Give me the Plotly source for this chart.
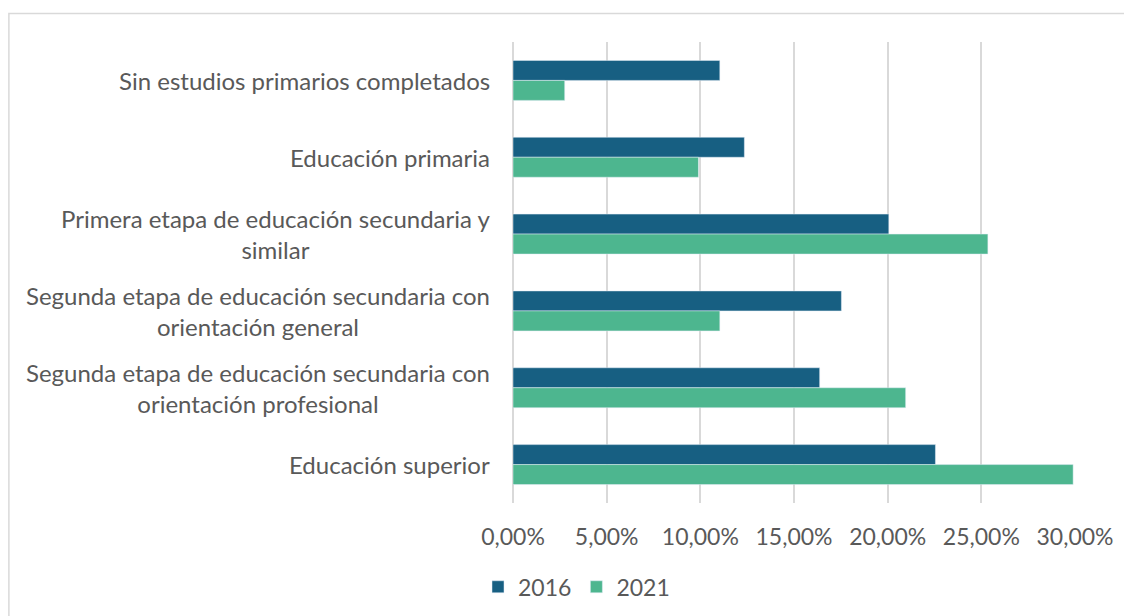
import plotly.graph_objects as go

categorias = [
    "Sin estudios primarios completados",
    "Educación primaria",
    "Primera etapa de educación secundaria y<br>similar",
    "Segunda etapa de educación secundaria con<br>orientación general",
    "Segunda etapa de educación secundaria con<br>orientación profesional",
    "Educación superior",
]
valores_2016 = [0.1104, 0.1235, 0.2006, 0.1753, 0.1637, 0.2255]
valores_2021 = [0.0276, 0.0990, 0.2535, 0.1104, 0.2096, 0.2990]
ticks_x = [0, 0.05, 0.10, 0.15, 0.20, 0.25, 0.30]

gris = "#595959"
fig = go.Figure()
fig.add_trace(go.Bar(y=categorias, x=valores_2016, name="2016", orientation="h",
                     marker_color="#175F82"))
fig.add_trace(go.Bar(y=categorias, x=valores_2021, name="2021", orientation="h",
                     marker_color="#4DB68F"))

# etiquetas de categoria como anotaciones (lineas centradas, como en Excel)
for c in categorias:
    fig.add_annotation(text=c, x=-0.038, xref="paper", y=c, yref="y",
                       xanchor="right", yanchor="middle", align="center",
                       showarrow=False, font=dict(size=24, color=gris))

# marco exterior del grafico
fig.add_shape(type="rect", xref="paper", yref="paper",
              x0=-0.897, y0=-0.3, x1=1.2, y1=1.0618,
              line=dict(color="#d9d9d9", width=1.5), layer="below")

fig.update_layout(
    width=1124, height=608,
    margin=dict(l=505, r=57, t=34, b=113, autoexpand=False),
    paper_bgcolor="white", plot_bgcolor="white",
    font=dict(family="Lato", size=23, color=gris),
    separators=",.",
    barmode="group", bargap=0.48, bargroupgap=0,
    showlegend=True,
    legend=dict(orientation="h", x=0.113, xanchor="center",
                yref="container", y=0.048, yanchor="middle",
                font=dict(size=23, color=gris), itemwidth=30),
    xaxis=dict(range=[0, 0.30], tickvals=ticks_x, tickformat=".2%",
               showgrid=True, gridcolor="#d9d9d9", gridwidth=1.5,
               zeroline=True, zerolinecolor="#d9d9d9", zerolinewidth=1.5,
               showline=False, ticks="", ticklabelstandoff=18),
    yaxis=dict(autorange="reversed", showticklabels=False, showgrid=False,
               zeroline=False, showline=False, ticks=""),
)

fig.write_html("out.html")
